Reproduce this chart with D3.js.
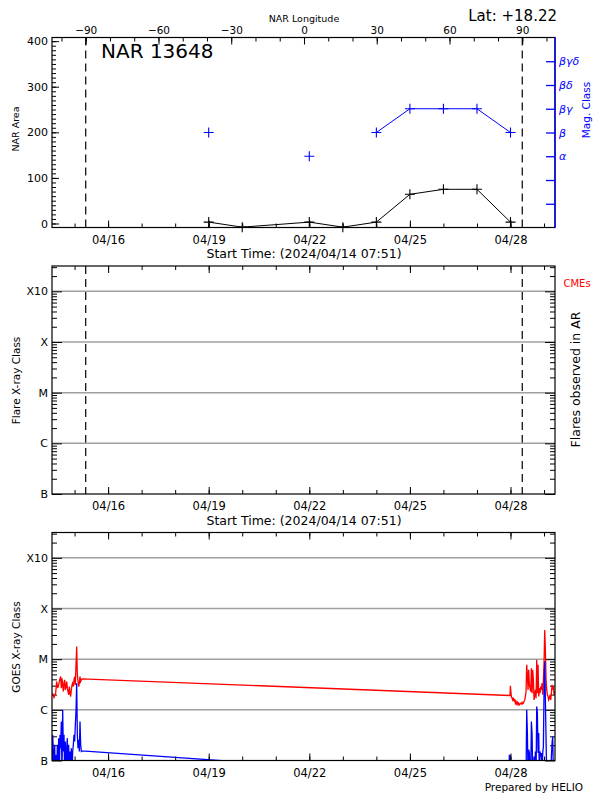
<!DOCTYPE html>
<html><head><meta charset="utf-8">
<script src="https://cdn.jsdelivr.net/npm/d3@7"></script>
<style>body{margin:0;background:#fff} svg{display:block} text{font-family:"DejaVu Sans",sans-serif}</style>
</head><body><svg id="c" width="600" height="800"></svg>
<script>
// ---------------- data ----------------
const regionLabel = "NAR 13648";
const latitudeLabel = "Lat: +18.22";
const startTimeText = "2024/04/14 07:51";
const dateTickLabels = ["04/16","04/19","04/22","04/25","04/28"];
const lonTickValues = [-90,-60,-30,0,30,60,90];
const lonLimbs = [-90, 90];
const areaTickValues = [0,100,200,300,400];
const magClassLabels = ["", "", "α", "β", "βγ", "βδ", "βγδ"];
const goesClassLabels = ["B","C","M","X","X10"];
const goesClassFlux = [1e-7,1e-6,1e-5,1e-4,1e-3];

const narDays = ["04/19","04/20","04/22","04/23","04/24","04/25","04/26","04/27","04/28"];
const narArea = [3,-8,3,-8,3,64,75,75,3];
const magDays = ["04/19","04/20","04/21","04/22","04/23","04/24","04/25","04/26","04/27","04/28"];
const magClass = ["β",null,null,"α",null,"β","βγ","βγ","βγ","β"];

// GOES 1-8 A (hours since start, W/m^2)
const longHours = [0.00,0.72,1.43,2.15,2.62,3.34,4.06,4.77,5.49,6.20,6.68,7.16,7.64,8.11,8.59,9.07,9.54,10.02,10.50,10.98,11.45,11.93,12.41,12.89,13.36,13.84,14.32,14.79,15.27,15.75,16.23,16.70,17.18,17.66,18.14,18.61,19.09,19.57,20.04,20.52,21.00,21.47,
 327.83,328.07,328.31,328.78,329.26,329.74,330.21,330.69,331.17,331.65,332.12,332.60,333.08,333.55,334.03,334.51,334.99,335.46,335.94,336.42,336.89,337.37,337.85,338.33,338.80,339.28,339.76,340.24,340.71,341.19,341.67,342.14,342.62,343.10,343.58,344.05,344.53,345.01,345.48,345.96,346.44,346.92,347.39,347.87,348.35,348.82,349.30,349.78,350.26,350.73,351.21,351.69,352.17,352.64,353.12,353.60,354.07,354.55,355.03,355.51,355.98,356.46,356.94,357.41,357.89,358.37,358.85,359.32,359.80];
const longFlux = [1.92e-6,2.04e-6,1.75e-6,1.98e-6,2.13e-6,3.62e-6,2.68e-6,3.11e-6,3.91e-6,4.54e-6,2.68e-6,4.21e-6,3.11e-6,2.30e-6,3.36e-6,3.91e-6,2.48e-6,2.88e-6,3.62e-6,2.68e-6,2.30e-6,1.98e-6,2.88e-6,2.13e-6,1.83e-6,2.48e-6,3.11e-6,3.36e-6,2.88e-6,3.91e-6,4.54e-6,3.11e-6,7.72e-6,1.77e-5,4.90e-6,3.62e-6,2.88e-6,3.36e-6,4.54e-6,3.62e-6,3.91e-6,4.09e-6,
 1.92e-6,2.97e-6,2.48e-6,1.83e-6,1.70e-6,1.57e-6,1.75e-6,1.46e-6,1.62e-6,1.35e-6,1.46e-6,1.31e-6,1.40e-6,1.26e-6,1.35e-6,1.26e-6,1.31e-6,1.35e-6,1.31e-6,1.40e-6,1.31e-6,1.35e-6,1.46e-6,1.57e-6,1.83e-6,2.30e-6,7.72e-6,4.90e-6,2.48e-6,6.15e-6,3.11e-6,2.68e-6,2.30e-6,6.63e-6,2.13e-6,6.15e-6,3.91e-6,1.57e-6,1.98e-6,2.48e-6,1.70e-6,9.69e-6,2.13e-6,7.72e-6,1.83e-6,2.68e-6,2.13e-6,2.88e-6,2.48e-6,3.36e-6,1.98e-6,3.91e-6,8.98e-6,3.78e-5,1.53e-5,3.91e-6,2.48e-6,1.98e-6,1.83e-6,1.57e-6,1.70e-6,1.98e-6,1.57e-6,2.13e-6,3.11e-6,2.68e-6,2.88e-6,1.98e-6,2.30e-6];

// GOES 0.5-4 A (hours since start, W/m^2)
const shortHours = [0.00,0.48,0.95,1.43,1.91,2.39,2.86,3.34,3.82,4.30,4.77,5.25,5.73,6.20,6.68,7.16,7.64,8.11,8.59,9.07,9.54,10.02,10.50,10.98,11.45,11.93,12.41,12.89,13.36,13.84,14.32,14.79,15.27,15.75,16.23,16.70,17.18,17.66,18.14,18.61,19.09,19.57,20.04,20.52,21.00,21.47,
 326.87,327.35,327.83,328.31,339.28,339.76,340.24,340.71,341.19,341.67,342.14,342.62,343.10,343.58,344.05,344.53,345.01,345.48,345.96,346.44,346.92,347.39,347.87,348.35,348.82,349.30,349.78,350.26,350.73,351.21,351.69,352.17,352.64,353.12,353.60,354.07,356.94,357.41,357.89,358.37,358.85,359.80];
const shortFlux = [5e-8,3.21e-7,1.51e-7,5e-8,2.04e-7,5e-8,1.29e-7,5e-8,2.04e-7,5e-8,2.76e-7,5e-8,3.21e-7,1.75e-7,5.89e-7,5e-8,1.0e-6,1.51e-7,3.21e-7,5e-8,2.37e-7,5e-8,1.75e-7,2.76e-7,5e-8,2.04e-7,5e-8,1.51e-7,5e-8,1.75e-7,5e-8,1.51e-7,2.04e-7,3.21e-7,2.37e-7,5.06e-7,9.27e-7,3.36e-6,3.21e-7,1.75e-7,2.56e-7,1.51e-7,5.89e-7,2.04e-7,1.51e-7,1.55e-7,
 4.0e-8,1.26e-7,1.26e-7,5e-8,5e-8,1.0e-6,3.47e-7,5e-8,1.63e-7,1.40e-7,5e-8,5e-8,5.89e-7,3.47e-7,5e-8,5e-8,1.20e-7,5e-8,1.51e-7,5e-8,1.16e-6,8.60e-7,1.40e-7,3.47e-7,5e-8,1.51e-7,1.20e-7,1.40e-7,5e-8,1.40e-7,1.89e-7,2.48e-6,8.98e-6,1.57e-6,2.56e-7,5e-8,5e-8,1.20e-7,2.20e-7,2.98e-7,5e-8,5e-8];

// ---------------- layout ----------------
const svg = d3.select("#c");
const L = 52, R = 555;
const P1 = {top: 37.5, bottom: 227.5};
const P2 = {top: 266, bottom: 494};
const P3 = {top: 532.5, bottom: 760.5};
const FONT = '"DejaVu Sans",sans-serif';

const start = d3.utcParse("%Y/%m/%d %H:%M")(startTimeText);
const end = d3.utcDay.offset(start, 15);
const parseDay = s => d3.utcParse("%Y/%m/%d")("2024/" + s);
const x = d3.scaleUtc().domain([start, end]).range([L, R]);
const lon = d3.scaleLinear().domain([-103.9, 103.5]).range([L, R]);
const majorDates = dateTickLabels.map(parseDay);
const minorDates = d3.utcDay.range(d3.utcDay.ceil(start), end);
const hoursToDate = h => new Date(+start + h * 3600e3);

function styleAxis(g, color, fs) {
  g.select(".domain").remove();
  g.attr("font-family", FONT).attr("font-size", fs || 11);
  g.selectAll(".tick line").attr("stroke", color || "#000");
  g.selectAll(".tick text").attr("fill", color || "#000");
}

function dateAxes(P, withStart, topTicks) {
  const gb = svg.append("g").attr("transform", `translate(0,${P.bottom})`);
  gb.call(d3.axisBottom(x).tickValues(minorDates).tickFormat("").tickSizeInner(-4).tickSizeOuter(0));
  styleAxis(gb);
  const gm = svg.append("g").attr("transform", `translate(0,${P.bottom})`);
  gm.call(d3.axisBottom(x).tickValues(majorDates).tickFormat((d,i) => dateTickLabels[i])
    .tickSizeInner(-7).tickSizeOuter(0).tickPadding(8));
  styleAxis(gm, "#000", 11.5);
  if (topTicks) {
    const gt = svg.append("g").attr("transform", `translate(0,${P.top})`);
    gt.call(d3.axisTop(x).tickValues(minorDates).tickFormat("").tickSizeInner(-4).tickSizeOuter(0));
    styleAxis(gt);
    const gt2 = svg.append("g").attr("transform", `translate(0,${P.top})`);
    gt2.call(d3.axisTop(x).tickValues(majorDates).tickFormat("").tickSizeInner(-7).tickSizeOuter(0));
    styleAxis(gt2);
  }
  if (withStart) {
    svg.append("text").attr("x", 304).attr("y", P.bottom + 30.5).attr("text-anchor", "middle")
      .attr("font-size", 12.5).text(`Start Time: (${startTimeText})`);
  }
}

function border(P) {
  svg.append("rect").attr("x", L).attr("y", P.top).attr("width", R - L).attr("height", P.bottom - P.top)
    .attr("fill", "none").attr("stroke", "#000").attr("stroke-width", 1.2);
}

// ---------------- panel 1 ----------------
const yA = d3.scaleLinear().domain([-8.8, 408]).range([P1.bottom, P1.top]);
const yM = d3.scaleLinear().domain([0, 8]).range([P1.bottom, P1.top]);

// limb dashed lines
[P1, P2].forEach(P => {
  svg.selectAll(null).data(lonLimbs).enter().append("line")
    .attr("x1", d => lon(d)).attr("x2", d => lon(d)).attr("y1", P.top).attr("y2", P.bottom)
    .attr("stroke", "#000").attr("stroke-width", 1.2).attr("stroke-dasharray", "8,5");
});

border(P1);
// left area axis
let g = svg.append("g").attr("transform", `translate(${L},0)`);
g.call(d3.axisLeft(yA).tickValues(yA.ticks(40).filter(v => v >= 0 && v <= 400)).tickFormat("").tickSizeInner(-4).tickSizeOuter(0));
styleAxis(g);
g = svg.append("g").attr("transform", `translate(${L},0)`);
g.call(d3.axisLeft(yA).tickValues(areaTickValues).tickSizeInner(-7).tickSizeOuter(0).tickPadding(4));
styleAxis(g, "#000", 11);
// top longitude axis
g = svg.append("g").attr("transform", `translate(0,${P1.top})`);
g.call(d3.axisTop(lon).tickValues(lon.ticks(20)).tickFormat("").tickSizeInner(-4).tickSizeOuter(0));
styleAxis(g);
g = svg.append("g").attr("transform", `translate(0,${P1.top})`);
g.call(d3.axisTop(lon).tickValues(lonTickValues).tickFormat(d3.format("d")).tickSizeInner(-7).tickSizeOuter(0).tickPadding(3.5));
styleAxis(g, "#000", 10.5);
svg.append("text").attr("x", 304).attr("y", 22).attr("text-anchor", "middle").attr("font-size", 9.5).text("NAR Longitude");
// right mag class axis (blue)
svg.append("line").attr("x1", R).attr("x2", R).attr("y1", P1.top).attr("y2", P1.bottom).attr("stroke", "#0000ff").attr("stroke-width", 1.4);
g = svg.append("g").attr("transform", `translate(${R},0)`);
g.call(d3.axisRight(yM).tickValues(d3.range(1, magClassLabels.length + 1)).tickFormat((d) => magClassLabels[d - 1])
  .tickSizeInner(-9).tickSizeOuter(0).tickPadding(4));
styleAxis(g, "#0000ff", 11);
g.selectAll(".tick line").attr("stroke-width", 1.3);
g.selectAll(".tick text").attr("font-style", "italic");
svg.append("text").attr("transform", "translate(589.5,110) rotate(-90)").attr("text-anchor", "middle")
  .attr("font-size", 10.5).attr("fill", "#0000ff").text("Mag. Class");
svg.append("text").attr("transform", "translate(18.5,129) rotate(-90)").attr("text-anchor", "middle")
  .attr("font-size", 9.5).text("NAR Area");
dateAxes(P1, true, false);

// data
const plusPath = "M-5,0H5M0,-5V5";
const narData = narDays.map((d, i) => ({t: parseDay(d), v: narArea[i]}));
svg.append("path").datum(narData).attr("fill", "none").attr("stroke", "#000").attr("stroke-width", 1)
  .attr("d", d3.line().x(d => x(d.t)).y(d => yA(d.v)));
svg.selectAll(null).data(narData).enter().append("path").attr("d", plusPath)
  .attr("transform", d => `translate(${x(d.t)},${yA(d.v)})`).attr("stroke", "#000").attr("stroke-width", 1.1).attr("fill", "none");
const magData = magDays.map((d, i) => ({t: parseDay(d), c: magClass[i]}));
const magY = c => yM(magClassLabels.indexOf(c) + 1);
svg.append("path").datum(magData).attr("fill", "none").attr("stroke", "#0000ff").attr("stroke-width", 1)
  .attr("d", d3.line().defined(d => d.c !== null).x(d => x(d.t)).y(d => magY(d.c)));
svg.selectAll(null).data(magData.filter(d => d.c !== null)).enter().append("path").attr("d", plusPath)
  .attr("transform", d => `translate(${x(d.t)},${magY(d.c)})`).attr("stroke", "#0000ff").attr("stroke-width", 1.1).attr("fill", "none");

svg.append("text").attr("x", 101).attr("y", 57.5).attr("font-size", 20).text(regionLabel);
svg.append("text").attr("x", 557).attr("y", 21).attr("text-anchor", "end").attr("font-size", 15).text(latitudeLabel);

// ---------------- log panels ----------------
function logPanel(P, title) {
  const y = d3.scaleLog().domain([1e-7, Math.pow(10, -2.5)]).range([P.bottom, P.top]);
  svg.selectAll(null).data(goesClassFlux.slice(1)).enter().append("line")
    .attr("x1", L).attr("x2", R).attr("y1", d => y(d)).attr("y2", d => y(d))
    .attr("stroke", "#a0a0a0").attr("stroke-width", 1.5);
  const minor = y.ticks().filter(v => !goesClassFlux.some(c => Math.abs(v / c - 1) < 1e-6));
  let a = svg.append("g").attr("transform", `translate(${L},0)`);
  a.call(d3.axisLeft(y).tickValues(minor).tickFormat("").tickSizeInner(-5).tickSizeOuter(0)); styleAxis(a);
  a = svg.append("g").attr("transform", `translate(${L},0)`);
  a.call(d3.axisLeft(y).tickValues(goesClassFlux).tickFormat((d, i) => goesClassLabels[i]).tickSizeInner(-10).tickSizeOuter(0).tickPadding(4));
  styleAxis(a, "#000", 11);
  a = svg.append("g").attr("transform", `translate(${R},0)`);
  a.call(d3.axisRight(y).tickValues(minor).tickFormat("").tickSizeInner(-5).tickSizeOuter(0)); styleAxis(a);
  a = svg.append("g").attr("transform", `translate(${R},0)`);
  a.call(d3.axisRight(y).tickValues(goesClassFlux).tickFormat("").tickSizeInner(-10).tickSizeOuter(0)); styleAxis(a);
  svg.append("text").attr("transform", `translate(19.5,${(P.top + P.bottom) / 2 + 0.5}) rotate(-90)`).attr("text-anchor", "middle")
    .attr("font-size", 10.5).text(title);
  return y;
}

// panel 2
const y2 = logPanel(P2, "Flare X-ray Class");
border(P2);
dateAxes(P2, true, true);
svg.append("text").attr("transform", `translate(580,${(P2.top + P2.bottom) / 2 - 0.5}) rotate(-90)`).attr("text-anchor", "middle")
  .attr("font-size", 12.5).text("Flares observed in AR");
svg.append("text").attr("x", 563.5).attr("y", 287).attr("font-size", 10).attr("fill", "#ff0000").text("CMEs");

// panel 3
const y3 = logPanel(P3, "GOES X-ray Class");
svg.append("clipPath").attr("id", "clip3").append("rect").attr("x", L).attr("y", P3.top).attr("width", R - L).attr("height", P3.bottom - P3.top);
const goesLine = d3.line().x(d => x(d.t)).y(d => y3(d.f));
const longData = longHours.map((h, i) => ({t: hoursToDate(h), f: longFlux[i]}));
const shortData = shortHours.map((h, i) => ({t: hoursToDate(h), f: shortFlux[i]}));
svg.append("path").datum(longData).attr("clip-path", "url(#clip3)").attr("fill", "none").attr("stroke", "#ff0000").attr("stroke-width", 1.3).attr("d", goesLine);
svg.append("path").datum(shortData).attr("clip-path", "url(#clip3)").attr("fill", "none").attr("stroke", "#0000ff").attr("stroke-width", 1.3).attr("d", goesLine);
border(P3);
dateAxes(P3, false, true);
svg.append("text").attr("x", 583).attr("y", 791).attr("text-anchor", "end").attr("font-size", 10.5).text("Prepared by HELIO");
</script></body></html>
